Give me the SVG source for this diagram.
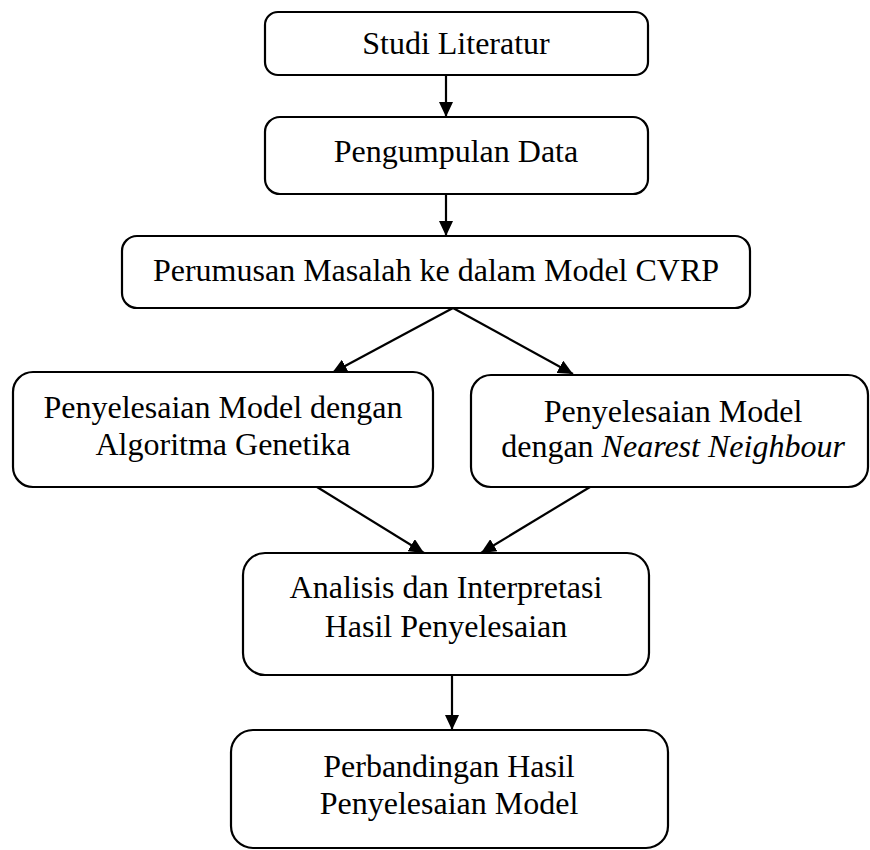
<svg xmlns="http://www.w3.org/2000/svg" width="870" height="850" viewBox="0 0 870 850">
<style>
.box{fill:#fff;stroke:#000;stroke-width:2.2}
.t{font-family:"Liberation Serif","Times New Roman",serif;font-size:32px;fill:#000;text-anchor:middle}
.c{stroke:#000;stroke-width:2.2;fill:none}
</style>
<defs>
<marker id="ah" markerUnits="userSpaceOnUse" markerWidth="16" markerHeight="14" refX="15" refY="7" orient="auto">
<path d="M0,0 L15,7 L0,14 z" fill="#000"/>
</marker>
</defs>
<rect width="870" height="850" fill="#fff"/>
<g id="connectors">
<line class="c" x1="446" y1="75" x2="446" y2="117" marker-end="url(#ah)"/>
<line class="c" x1="446" y1="194" x2="446" y2="236" marker-end="url(#ah)"/>
<line class="c" x1="453" y1="308" x2="332" y2="373" marker-end="url(#ah)"/>
<line class="c" x1="453" y1="308" x2="573" y2="374" marker-end="url(#ah)"/>
<line class="c" x1="317" y1="487" x2="424" y2="553" marker-end="url(#ah)"/>
<line class="c" x1="590" y1="487" x2="481" y2="553" marker-end="url(#ah)"/>
<line class="c" x1="452" y1="675" x2="452" y2="730" marker-end="url(#ah)"/>
</g>
<g id="n1"><rect class="box" x="265" y="12" width="383" height="63" rx="13"/><text class="t" x="456" y="54">Studi Literatur</text></g>
<g id="n2"><rect class="box" x="265" y="117" width="383" height="77" rx="15"/><text class="t" x="456" y="162">Pengumpulan Data</text></g>
<g id="n3"><rect class="box" x="122" y="236" width="628" height="72" rx="15"/><text class="t" x="436" y="281">Perumusan Masalah ke dalam Model CVRP</text></g>
<g id="n4"><rect class="box" x="13" y="372" width="420" height="115" rx="20"/><text class="t" x="223" y="418">Penyelesaian Model dengan</text><text class="t" x="223" y="455">Algoritma Genetika</text></g>
<g id="n5"><rect class="box" x="471" y="375" width="397" height="112" rx="20"/><text class="t" x="673" y="422">Penyelesaian Model</text><text class="t" x="673" y="457">dengan <tspan font-style="italic">Nearest Neighbour</tspan></text></g>
<g id="n6"><rect class="box" x="243" y="553" width="406" height="122" rx="22"/><text class="t" x="446" y="598">Analisis dan Interpretasi</text><text class="t" x="446" y="637">Hasil Penyelesaian</text></g>
<g id="n7"><rect class="box" x="231" y="730" width="437" height="118" rx="22"/><text class="t" x="449" y="777">Perbandingan Hasil</text><text class="t" x="449" y="814">Penyelesaian Model</text></g>
</svg>
